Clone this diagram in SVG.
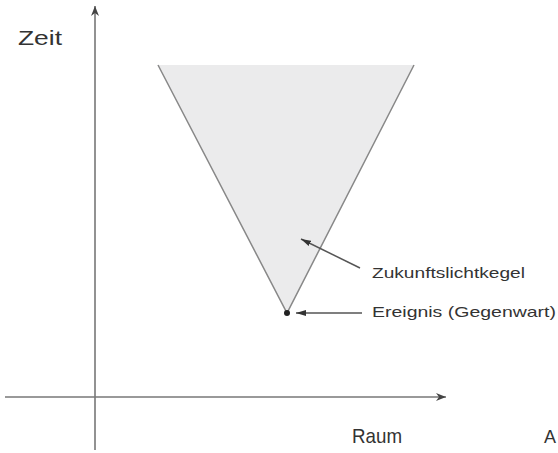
<svg xmlns="http://www.w3.org/2000/svg" width="558" height="453" viewBox="0 0 558 453">
<style>
.ax{stroke:#777;stroke-width:1.6;fill:none}
.edge{stroke:#888;stroke-width:1.5;fill:none}
.ptr{stroke:#555;stroke-width:1.5;fill:none}
.t{font-family:"Liberation Sans",Arial,sans-serif;fill:#333}
</style>
<defs>
<marker id="ah" markerWidth="12" markerHeight="10" refX="10" refY="5" orient="auto" markerUnits="userSpaceOnUse">
<path d="M0,1 L10,5 L0,9 L3,5 Z" fill="#444"/>
</marker>
<marker id="ph" markerWidth="12" markerHeight="8" refX="10" refY="4" orient="auto" markerUnits="userSpaceOnUse">
<path d="M0,1 L10,4 L0,7 Z" fill="#333"/>
</marker>
</defs>
<rect width="558" height="453" fill="#fff"/>
<g id="cone">
<polygon points="158,65 414,65 287,313" fill="#ebebec"/>
<path class="edge" d="M158,65 L287,313 L414,65"/>
</g>
<g id="connectors">
<line class="ax" x1="95" y1="450" x2="95" y2="6" marker-end="url(#ah)"/>
<line class="ax" x1="5" y1="397" x2="446" y2="397" marker-end="url(#ah)"/>
<line class="ptr" x1="360" y1="268" x2="301" y2="239" marker-end="url(#ph)"/>
<line class="ptr" x1="362" y1="313" x2="296" y2="313" marker-end="url(#ph)"/>
</g>
<g id="event">
<circle cx="287" cy="313" r="3" fill="#222"/>
</g>
<g id="labels">
<text class="t" x="18" y="45" font-size="21" textLength="44" lengthAdjust="spacingAndGlyphs">Zeit</text>
<text class="t" x="352" y="443" font-size="21" textLength="50" lengthAdjust="spacingAndGlyphs">Raum</text>
<text class="t" x="544" y="443" font-size="18">A</text>
<text class="t" x="372" y="278" font-size="15" textLength="153" lengthAdjust="spacingAndGlyphs">Zukunftslichtkegel</text>
<text class="t" x="372" y="317" font-size="15" textLength="184" lengthAdjust="spacingAndGlyphs">Ereignis (Gegenwart)</text>
</g>
</svg>
